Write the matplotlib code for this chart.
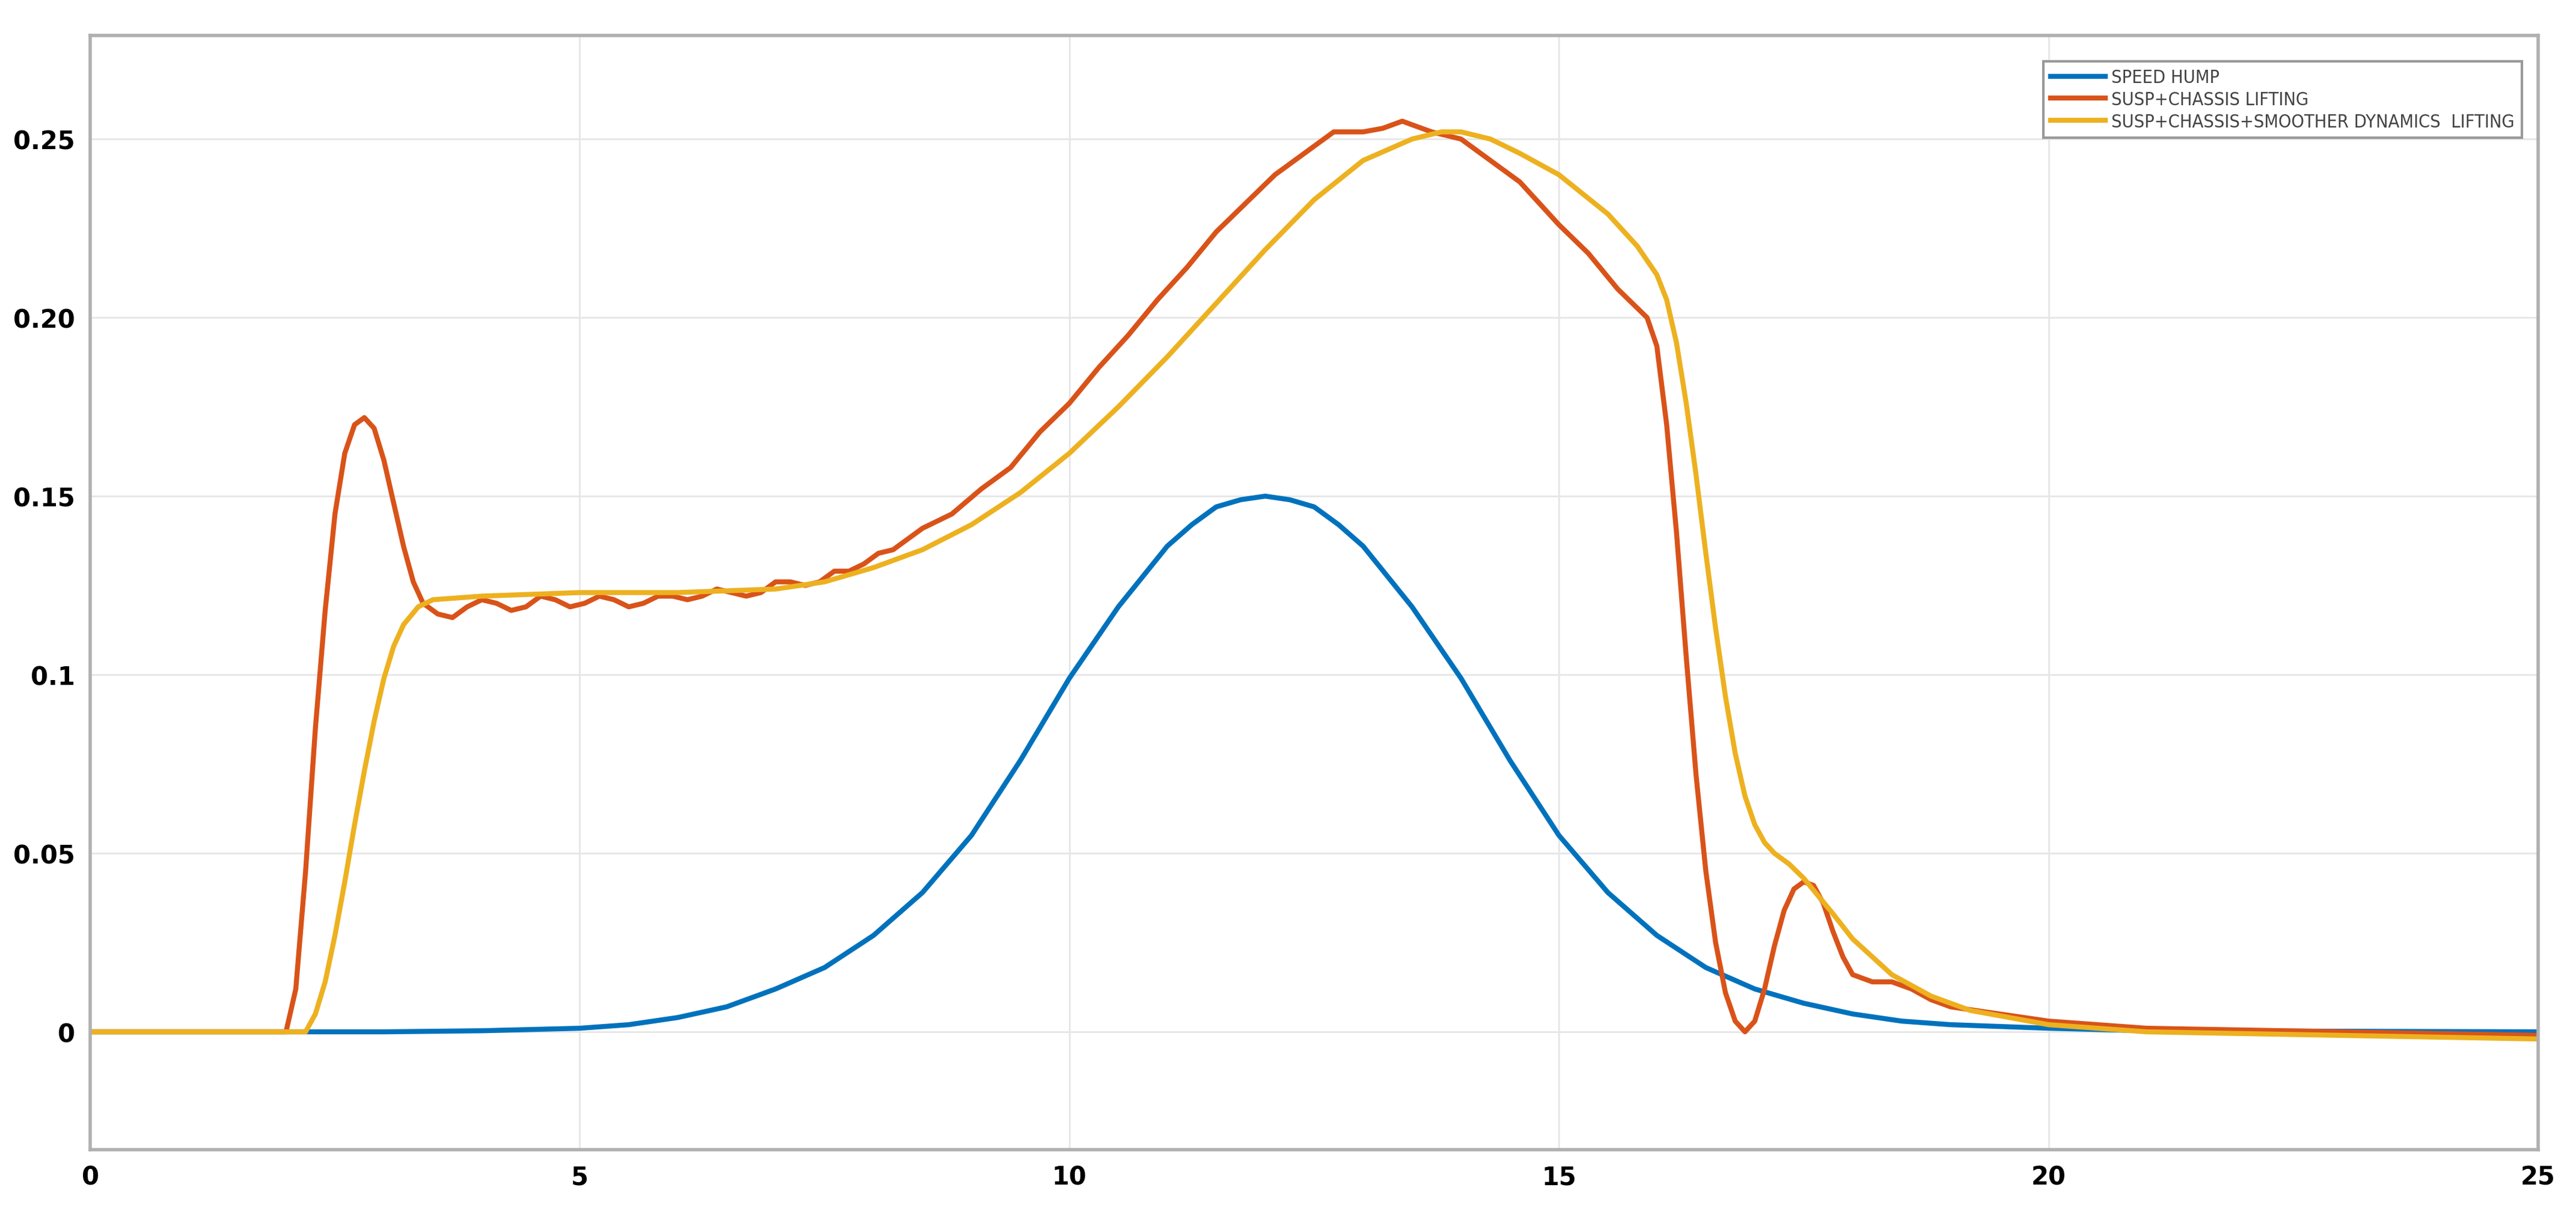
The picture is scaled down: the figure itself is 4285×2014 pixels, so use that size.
import matplotlib.pyplot as plt

# Speed hump profile
hump_x = [0, 2, 3, 4, 5, 5.5, 6, 6.5, 7, 7.5, 8, 8.5, 9, 9.5, 10, 10.5, 11, 11.25, 11.5, 11.75, 12,
          12.25, 12.5, 12.75, 13, 13.5, 14, 14.5, 15, 15.5, 16, 16.5, 17, 17.5, 18, 18.5, 19, 20,
          21, 25]
hump_y = [0, 0, 0, 0.0003, 0.001, 0.002, 0.004, 0.007, 0.012, 0.018, 0.027, 0.039, 0.055, 0.076,
          0.099, 0.119, 0.136, 0.142, 0.147, 0.149, 0.150, 0.149, 0.147, 0.142, 0.136, 0.119,
          0.099, 0.076, 0.055, 0.039, 0.027, 0.018, 0.012, 0.008, 0.005, 0.003, 0.002, 0.001,
          0.0003, 0]

# Suspension + chassis lifting
susp_x = [0, 2.0, 2.1, 2.2, 2.3, 2.4, 2.5, 2.6, 2.7, 2.8, 2.9, 3.0, 3.1, 3.2, 3.3, 3.4, 3.55, 3.7,
          3.85, 4.0, 4.15, 4.3, 4.45, 4.6, 4.75, 4.9, 5.05, 5.2, 5.35, 5.5, 5.65, 5.8, 5.95, 6.1,
          6.25, 6.4, 6.55, 6.7, 6.85, 7.0, 7.15, 7.3, 7.45, 7.6, 7.75, 7.9, 8.05, 8.2, 8.5, 8.8,
          9.1, 9.4, 9.7, 10.0, 10.3, 10.6, 10.9, 11.2, 11.5, 11.8, 12.1, 12.4, 12.7, 13.0, 13.2,
          13.4, 13.7, 14.0, 14.3, 14.6, 15.0, 15.3, 15.6, 15.9, 16.0, 16.1, 16.2, 16.3, 16.4,
          16.5, 16.6, 16.7, 16.8, 16.9, 17.0, 17.1, 17.2, 17.3, 17.4, 17.5, 17.6, 17.7, 17.8,
          17.9, 18.0, 18.2, 18.4, 18.6, 18.8, 19.0, 19.5, 20.0, 21.0, 23.0, 25.0]
susp_y = [0, 0, 0.012, 0.045, 0.085, 0.118, 0.145, 0.162, 0.170, 0.172, 0.169, 0.160, 0.148, 0.136,
          0.126, 0.120, 0.117, 0.116, 0.119, 0.121, 0.120, 0.118, 0.119, 0.122, 0.121, 0.119,
          0.120, 0.122, 0.121, 0.119, 0.120, 0.122, 0.122, 0.121, 0.122, 0.124, 0.123, 0.122,
          0.123, 0.126, 0.126, 0.125, 0.126, 0.129, 0.129, 0.131, 0.134, 0.135, 0.141, 0.145,
          0.152, 0.158, 0.168, 0.176, 0.186, 0.195, 0.205, 0.214, 0.224, 0.232, 0.240, 0.246,
          0.252, 0.252, 0.253, 0.255, 0.252, 0.250, 0.244, 0.238, 0.226, 0.218, 0.208, 0.200,
          0.192, 0.170, 0.140, 0.105, 0.072, 0.045, 0.025, 0.011, 0.003, 0.000, 0.003, 0.012,
          0.024, 0.034, 0.040, 0.042, 0.041, 0.036, 0.028, 0.021, 0.016, 0.014, 0.014, 0.012,
          0.009, 0.007, 0.005, 0.003, 0.001, 0.000, -0.001]

# Suspension + chassis + smoother dynamics lifting
smooth_x = [0, 2.2, 2.3, 2.4, 2.5, 2.6, 2.7, 2.8, 2.9, 3.0, 3.1, 3.2, 3.35, 3.5, 4, 5, 6, 7, 7.5,
            8, 8.5, 9, 9.5, 10, 10.5, 11, 11.5, 12, 12.5, 13, 13.5, 13.8, 14, 14.3, 14.6, 15,
            15.5, 15.8, 16, 16.1, 16.2, 16.3, 16.4, 16.5, 16.6, 16.7, 16.8, 16.9, 17.0, 17.1,
            17.2, 17.35, 17.5, 17.65, 17.8, 18.0, 18.2, 18.4, 18.8, 19.2, 19.6, 20.0, 21.0, 23.0,
            25.0]
smooth_y = [0, 0, 0.005, 0.014, 0.027, 0.042, 0.058, 0.073, 0.087, 0.099, 0.108, 0.114, 0.119,
            0.121, 0.122, 0.123, 0.123, 0.124, 0.126, 0.130, 0.135, 0.142, 0.151, 0.162, 0.175,
            0.189, 0.204, 0.219, 0.233, 0.244, 0.250, 0.252, 0.252, 0.250, 0.246, 0.240, 0.229,
            0.220, 0.212, 0.205, 0.193, 0.176, 0.156, 0.134, 0.113, 0.094, 0.078, 0.066, 0.058,
            0.053, 0.050, 0.047, 0.043, 0.038, 0.033, 0.026, 0.021, 0.016, 0.010, 0.006, 0.004,
            0.002, 0.000, -0.001, -0.002]

x_ticks = [0, 5, 10, 15, 20, 25]
y_ticks = [0, 0.05, 0.1, 0.15, 0.20, 0.25]
y_tick_labels = ['0', '0.05', '0.1', '0.15', '0.20', '0.25']

fig = plt.figure(figsize=(42.85, 20.15), dpi=100)
ax = fig.add_axes([150 / 4285, 1 - 1913 / 2015, (4222 - 150) / 4285, (1913 - 60) / 2015])

ax.plot(hump_x, hump_y, color='#0072BD', lw=6, label='SPEED HUMP')
ax.plot(susp_x, susp_y, color='#D95319', lw=6, label='SUSP+CHASSIS LIFTING')
ax.plot(smooth_x, smooth_y, color='#EDB120', lw=6, label='SUSP+CHASSIS+SMOOTHER DYNAMICS  LIFTING')

ax.set_xlim(0, 25)
ax.set_ylim(-0.033, 0.279)
ax.set_xticks(x_ticks)
ax.set_xticklabels([str(t) for t in x_ticks], fontsize=30, fontweight='bold')
ax.set_yticks(y_ticks)
ax.set_yticklabels(y_tick_labels, fontsize=30, fontweight='bold')
ax.tick_params(length=0, pad=18)
ax.grid(True, color='#e6e6e6', lw=2)
for s in ax.spines.values():
    s.set_color('#b0b0b0')
    s.set_linewidth(4)

leg = ax.legend(loc='upper right', bbox_to_anchor=(0.997, 0.985), fontsize=22, fancybox=False,
                edgecolor='#999999', framealpha=1, handlelength=3, labelspacing=0.25,
                borderpad=0.4, handletextpad=0.3)
leg.get_frame().set_linewidth(3)
for t in leg.get_texts():
    t.set_color('#444444')
    t.set_fontstretch('condensed')

fig.savefig('out.png', dpi=100)
